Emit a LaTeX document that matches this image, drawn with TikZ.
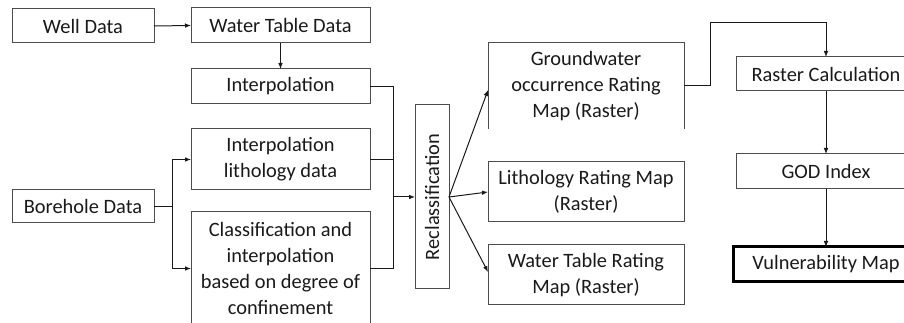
\documentclass[tikz,border=0pt]{standalone}
\usepackage{fontspec}
\setmainfont{Carlito}
\usetikzlibrary{arrows.meta}
\begin{document}
\begin{tikzpicture}[x=0.75pt,y=-0.75pt,
  box/.style={draw=black!70, line width=0.75pt, inner sep=0pt, outer sep=0pt, align=center,
    font=\fontsize{15.3}{19.5}\selectfont, text=black!90},
  conn/.style={draw=black!90, line width=0.75pt},
  arr/.style={conn, -{Latex[length=4.5pt,width=3.5pt]}}]
\useasboundingbox (0,0) rectangle (904,323);
\clip (0,0) rectangle (904,323);
% left column
\node[box, minimum width=106.5pt, minimum height=25.5pt] (well) at (83,26) {Well Data};
\node[box, minimum width=106.5pt, minimum height=24.75pt] (bore) at (83,206.5) {Borehole Data};
% second column
\node[box, minimum width=134.25pt, minimum height=26.25pt] (wtd) at (280.5,25.5) {Water Table Data};
\node[box, minimum width=134.25pt, minimum height=26.25pt] (interp) at (280.5,86.5) {Interpolation};
\node[box, minimum width=134.25pt, minimum height=45.75pt] (ilith) at (280.5,159.5) {Interpolation\\lithology data};
\node[box, minimum width=134.25pt, minimum height=84.75pt] (cls) at (280.5,268.5) {Classification and\\interpolation\\based on degree of\\confinement};
% reclassification
\node[box, rotate=90, minimum width=138pt, minimum height=25.5pt] (recl) at (432,197) {Reclassification};
% rating maps
\node[box, draw=none, minimum width=147pt, minimum height=64.5pt] (gw) at (586,86) {Groundwater\\occurrence Rating\\Map (Raster)};
\draw[draw=black!70, line width=0.75pt] (gw.south west) -- (gw.north west) -- (gw.north east) -- (gw.south east);
\node[box, minimum width=147pt, minimum height=45pt] (lith) at (586,192) {Lithology Rating Map\\(Raster)};
\node[box, minimum width=147pt, minimum height=45pt] (wt) at (586,275) {Water Table Rating\\Map (Raster)};
% right column
\node[box, minimum width=135pt, minimum height=25.5pt] (rc) at (826,74) {Raster Calculation};
\node[box, minimum width=135pt, minimum height=26.25pt] (god) at (826,171.5) {GOD Index};
\node[box, draw=black, line width=2.25pt, minimum width=139.5pt, minimum height=26.25pt] (vuln) at (826,264.5) {Vulnerability Map};
% junction coordinates
\coordinate (bj) at (172,206.5);
\coordinate (bjt) at (172,159.5);
\coordinate (bjb) at (172,268.5);
\coordinate (rjt) at (393,86.5);
\coordinate (rjm) at (393,159.5);
\coordinate (rjb) at (393,268.5);
\coordinate (rj) at (393,197);
\coordinate (gwin) at (488,90);
\coordinate (lin) at (488,192);
\coordinate (wtin) at (488,272);
\coordinate (gwout) at (684,86);
\coordinate (k1) at (710,86);
\coordinate (k2) at (710,23);
\coordinate (k3) at (826,23);
% connectors
\draw[arr] (well.east) -- (wtd.west);
\draw[arr] (wtd.south) -- (interp.north);
\draw[conn] (bore.east) -- (bj);
\draw[arr] (bj) -- (bjt) -- (ilith.west);
\draw[arr] (bj) -- (bjb) -- (cls.west);
\draw[conn] (interp.east) -- (rjt) -- (rjb) -- (cls.east);
\draw[conn] (ilith.east) -- (rjm);
\draw[arr] (rj) -- (recl.north);
\draw[arr] (recl.south) -- (gwin);
\draw[arr] (recl.south) -- (lin);
\draw[arr] (recl.south) -- (wtin);
\draw[arr] (gwout) -- (k1) -- (k2) -- (k3) -- (rc.north);
\draw[arr] (rc.south) -- (god.north);
\draw[arr] (god.south) -- (vuln.north);
\end{tikzpicture}
\end{document}
